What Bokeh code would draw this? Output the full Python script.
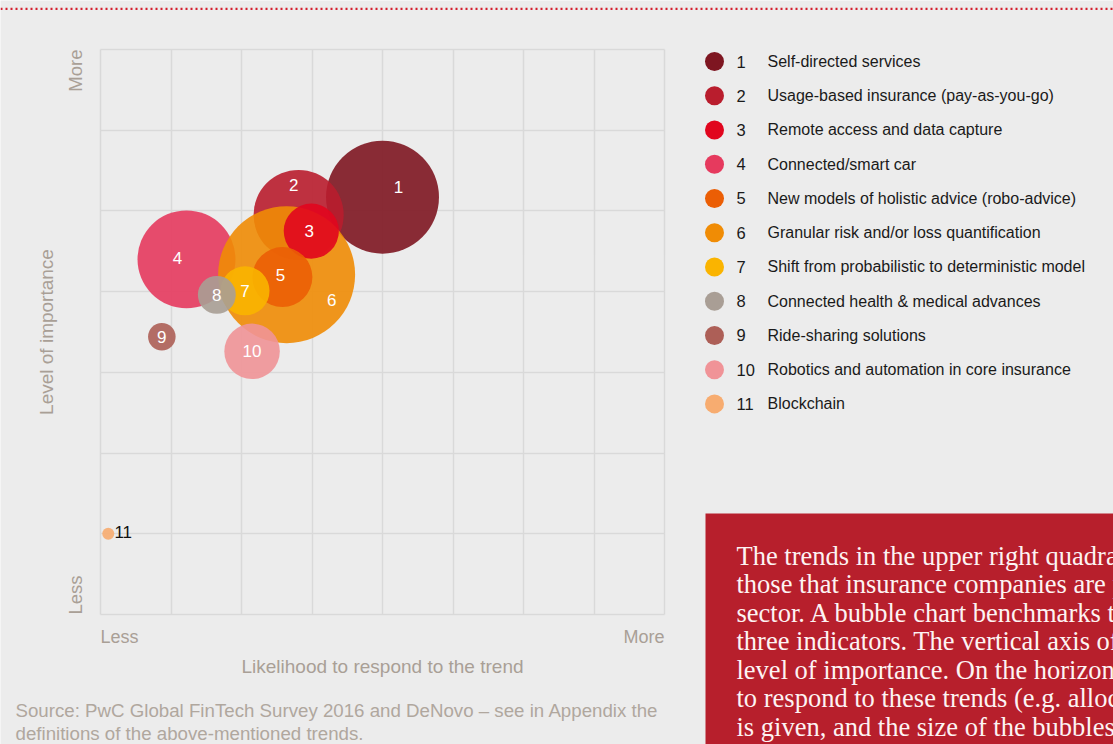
from bokeh.plotting import figure
from bokeh.models import ColumnDataSource, Range1d, FixedTicker, Label, BoxAnnotation, Span
from bokeh.embed import file_html
from bokeh.resources import INLINE
from bokeh.core.properties import value

# ---------------- data ----------------
ids = [1, 2, 3, 4, 5, 6, 7, 8, 9, 10, 11]
trends = [
    "Self-directed services",
    "Usage-based insurance (pay-as-you-go)",
    "Remote access and data capture",
    "Connected/smart car",
    "New models of holistic advice (robo-advice)",
    "Granular risk and/or loss quantification",
    "Shift from probabilistic to deterministic model",
    "Connected health & medical advances",
    "Ride-sharing solutions",
    "Robotics and automation in core insurance",
    "Blockchain",
]
likelihood = [4.00, 2.81, 2.99, 1.22, 2.58, 2.64, 2.05, 1.65, 0.87, 2.15, 0.11]
importance = [5.17, 4.95, 4.75, 4.40, 4.18, 4.21, 4.01, 3.96, 3.44, 3.26, 1.00]
bubble_weight = [31.9, 20.3, 7.6, 24.0, 9.0, 46.9, 6.0, 3.6, 1.9, 7.7, 0.36]
colors = ["#7E1621", "#B91D2D", "#E1061E", "#E63A5E", "#EB5E05", "#F08C05",
          "#FAB400", "#A99E95", "#AD5F57", "#F09397", "#F7AC70"]
draw_order = [1, 2, 4, 6, 3, 5, 7, 8, 10, 9, 11]
label_dx = [16, -5, -2, -9, -2, 45, 0, 0, 0, 0, 15]
label_dy = [-10, -30, 0, -1, -2, 25, 0, 0, 0, 0, -2]
label_colors = ["white"] * 10 + ["#111111"]

x_tick_labels = ["Less", "More"]
y_tick_labels = ["Less", "More"]
x_title = "Likelihood to respond to the trend"
y_title = "Level of importance"
source_note = ("Source: PwC Global FinTech Survey 2016 and DeNovo \u2013 see in Appendix the\n"
               "definitions of the above-mentioned trends.")
box_text = ("The trends in the upper right quadrant are\n"
            "those that insurance companies are prioritising in the\n"
            "sector. A bubble chart benchmarks the trends on\n"
            "three indicators. The vertical axis of the chart shows the\n"
            "level of importance. On the horizontal axis the likelihood\n"
            "to respond to these trends (e.g. allocating resources)\n"
            "is given, and the size of the bubbles indicates the impact.")

# ---------------- styling / layout ----------------
BG = "#ECECEC"
GRID = "#D9D9D9"
AXTXT = "#A99F96"
SANS = "Liberation Sans"
SERIF = "Liberation Serif"

W, H = 1113, 744
X0, X1, Y0, Y1 = 0, 8, 0, 7
FR_L, FR_R, FR_T, FR_B = 100, 664, 49, 614       # chart area in canvas pixels
PXX = (FR_R - FR_L) / (X1 - X0)
PXY = (FR_B - FR_T) / (Y1 - Y0)


def X(px):
    return X0 + (px - FR_L) / PXX


def Y(py):
    return Y0 + (FR_B - py) / PXY


p = figure(width=W, height=H, x_range=Range1d(X(0), X(W)), y_range=Range1d(Y(H), Y(0)),
           toolbar_location=None, output_backend="svg", min_border=0,
           x_axis_location=None, y_axis_location=None)
p.background_fill_color = BG
p.border_fill_color = BG
p.outline_line_color = None

p.xgrid.ticker = FixedTicker(ticks=list(range(X0, X1 + 1)))
p.ygrid.ticker = FixedTicker(ticks=list(range(Y0, Y1 + 1)))
p.xgrid.bounds = (X0, X1)
p.ygrid.bounds = (Y0, Y1)
p.xgrid.cross_bounds = (Y0, Y1)
p.ygrid.cross_bounds = (X0, X1)
p.grid.grid_line_color = GRID
p.grid.grid_line_width = 1.5

# top dotted rule
p.add_layout(Span(location=Y(8.3), dimension="width", line_color="#D4202F",
                  line_width=2.2, line_dash="2 3"))

# bubbles
order_idx = [ids.index(i) for i in draw_order]
src = ColumnDataSource(dict(
    x=[likelihood[k] for k in order_idx],
    y=[importance[k] for k in order_idx],
    size=[2 * 10 * (bubble_weight[k] ** 0.5) for k in order_idx],
    color=[colors[k] for k in order_idx],
    label=[str(ids[k]) for k in order_idx],
    dx=[label_dx[k] for k in order_idx],
    dy=[label_dy[k] for k in order_idx],
    tcolor=[label_colors[k] for k in order_idx],
))
p.scatter("x", "y", size="size", source=src, fill_color="color", fill_alpha=0.9,
          line_color=None)
p.text("x", "y", text="label", source=src, x_offset="dx", y_offset="dy",
       text_color="tcolor", text_align="center", text_baseline="middle",
       text_font=value(SANS), text_font_size="17px")

# axis texts
def lab(**kw):
    base = dict(text_font=SANS, text_font_size="18.5px", text_color=AXTXT,
                text_baseline="middle")
    base.update(kw)
    p.add_layout(Label(**base))

lab(x=X0, y=Y(636), text=x_tick_labels[0], text_align="left", text_font_size="18px")
lab(x=X1, y=Y(636), text=x_tick_labels[1], text_align="right", text_font_size="18px")
lab(x=X(75), y=Y0, text=y_tick_labels[0], angle=1.5708, text_align="left")
lab(x=X(75), y=Y1, text=y_tick_labels[1], angle=1.5708, text_align="right")
lab(x=(X0 + X1) / 2, y=Y(666), text=x_title, text_align="center", text_font_size="19px")
lab(x=X(46), y=(Y0 + Y1) / 2, text=y_title, angle=1.5708, text_align="center",
    text_font_size="19px")
lab(x=X(15), y=Y(699), text=source_note, text_align="left", text_baseline="top",
    text_line_height=1.12, text_color="#B0A79E", text_font_size="18.7px")

# legend
ROW0, ROWH = 61, 34.24
leg_y = [Y(ROW0 + ROWH * (i - 1)) for i in ids]
lsrc = ColumnDataSource(dict(y=leg_y, num=[str(i) for i in ids], name=trends, color=colors))
p.scatter(x=X(714), y="y", size=19, source=lsrc, fill_color="color", line_color=None)
p.text(x=X(736), y="y", text="num", source=lsrc, text_align="left", text_baseline="middle",
       text_font=value(SANS), text_font_size="16.5px", text_color="#1A1A1A")
p.text(x=X(767), y="y", text="name", source=lsrc, text_align="left", text_baseline="middle",
       text_font=value(SANS), text_font_size="16px", text_color="#1A1A1A")

# red note box
p.add_layout(BoxAnnotation(left=X(705), right=X(W + 60), top=Y(513), bottom=Y(H + 60),
                           fill_color="#B71F2C", fill_alpha=1, line_color=None))
p.add_layout(Label(x=X(736), y=Y(540), text=box_text, text_align="left", text_baseline="top",
                   text_font=SERIF, text_font_size="26.5px", text_line_height=0.95,
                   text_color="#FDF3F3"))

open("out.html", "w").write(file_html(p, INLINE))
